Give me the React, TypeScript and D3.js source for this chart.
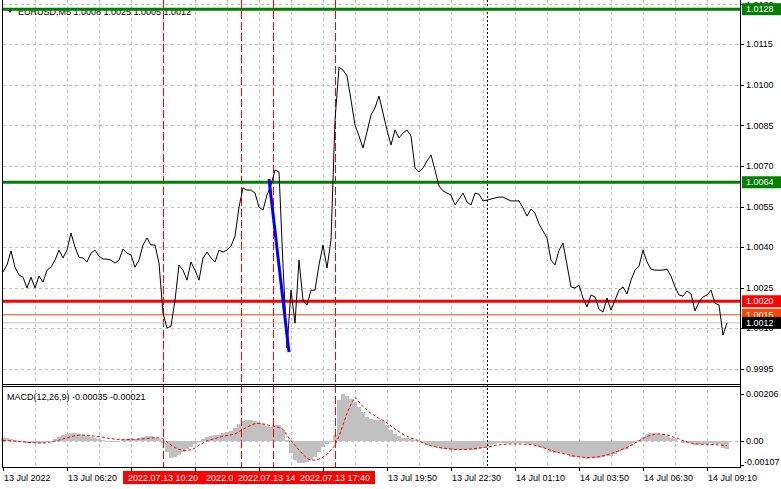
import React from "react";
import * as d3 from "d3";

// ---- data (sampled every 2 M5 bars) ----
const SAMPLE_STEP = 2;
const closes = [
  1.00308, 1.00334, 1.00386, 1.00326, 1.00297, 1.00289, 1.00249, 1.00289, 1.00249, 1.00293,
  1.00271, 1.00315, 1.00326, 1.00352, 1.00389, 1.0036, 1.00389, 1.00452, 1.004, 1.00363,
  1.0036, 1.00345, 1.00378, 1.00389, 1.00367, 1.00356, 1.00356, 1.00352, 1.00341, 1.00352,
  1.00393, 1.00378, 1.00371, 1.00326, 1.00352, 1.00408, 1.00434, 1.00408, 1.00408, 1.00341,
  1.00156, 1.00101, 1.00108, 1.00204, 1.00334, 1.00315, 1.00278, 1.00345, 1.00315, 1.00278,
  1.0036, 1.00382, 1.0036, 1.00345, 1.00389, 1.00382, 1.00389, 1.00404, 1.00441, 1.00548,
  1.00619, 1.00611, 1.00611, 1.006, 1.00548, 1.00537, 1.00593, 1.0063, 1.00685, 1.00678,
  1.00334, 1.00027, 1.00241, 1.00119, 1.00352, 1.00204, 1.00186, 1.00241, 1.00241, 1.00334,
  1.00408, 1.00323, 1.00426, 1.0087, 1.01066, 1.01055, 1.01033, 1.00944, 1.00852, 1.00811,
  1.00767, 1.00826, 1.00889, 1.00915, 1.00959, 1.00896, 1.00833, 1.00778, 1.00833, 1.00804,
  1.00822, 1.00833, 1.00811, 1.00693, 1.00678, 1.00693, 1.00719, 1.00741, 1.00685, 1.00626,
  1.00608, 1.006, 1.00593, 1.00556, 1.00578, 1.006, 1.00567, 1.00556, 1.006, 1.00596,
  1.00571, 1.00574, 1.00578, 1.00582, 1.00585, 1.00585, 1.00578, 1.00571, 1.00571, 1.00571,
  1.00545, 1.00515, 1.00541, 1.00526, 1.00486, 1.0046, 1.00434, 1.00352, 1.00334, 1.00389,
  1.00415, 1.00334, 1.00253, 1.00249, 1.0026, 1.00212, 1.00179, 1.00223, 1.00216, 1.00171,
  1.0016, 1.00212, 1.00167, 1.00204, 1.00241, 1.00253, 1.00227, 1.00278, 1.00315, 1.0033,
  1.00389, 1.00345, 1.00319, 1.00315, 1.00315, 1.00315, 1.00319, 1.00293, 1.00253, 1.00223,
  1.00219, 1.00238, 1.00227, 1.00164, 1.00197, 1.00216, 1.00223, 1.00241, 1.00193, 1.00186,
  1.00075, 1.0012,
];

const macdMain = [
  0.00012, 0.00012, 0.00007, 0.00003, -0.00001, -0.00006, -0.0001, -0.00012, -0.00012, -0.0001,
  -0.0001, -0.00006, -0.00001, 0.00007, 0.00016, 0.00025, 0.00029, 0.00034, 0.00034, 0.00029,
  0.00025, 0.0002, 0.00016, 0.00012, 0.00007, 0.00003, -0.00001, -0.00004, -0.00004, -0.00001,
  0.00003, 0.00007, 0.0001, 0.00007, 0.0001, 0.00016, 0.0002, 0.0002, 0.00016, 0.00007,
  -0.0001, -0.0005, -0.00076, -0.00071, -0.00063, -0.0005, -0.00036, -0.00028, -0.00014, -0.00006,
  0.00007, 0.00016, 0.0002, 0.00025, 0.00027, 0.00034, 0.00038, 0.00042, 0.00056, 0.00073,
  0.00086, 0.00091, 0.00091, 0.00086, 0.00082, 0.00073, 0.00064, 0.0006, 0.00069, 0.00069,
  0.00047, 0.00003, -0.00054, -0.00085, -0.00098, -0.00098, -0.00093, -0.00085, -0.00071, -0.0005,
  -0.00028, -0.00014, -0.00006, 0.00025, 0.00179, 0.00206, 0.00198, 0.00185, 0.0017, 0.0015,
  0.00125, 0.00105, 0.00095, 0.00092, 0.0009, 0.00088, 0.0007, 0.00045, 0.0003, 0.0002,
  0.00014, 0.0001, 0.00008, 0.00005, 0.0, -0.0001, -0.00018, -0.00022, -0.00028, -0.00032,
  -0.00035, -0.00038, -0.0004, -0.0004, -0.0004, -0.00042, -0.0004, -0.0004, -0.0004, -0.00035,
  -0.0003, -0.00027, -0.00018, -0.00013, -0.0001, -0.00008, -0.0001, -0.0001, -0.0001, -0.00008,
  -0.00012, -0.00016, -0.00016, -0.00018, -0.00022, -0.0003, -0.00038, -0.00048, -0.00055, -0.0005,
  -0.00052, -0.0006, -0.0007, -0.00072, -0.0007, -0.00072, -0.00078, -0.00076, -0.00074, -0.00075,
  -0.00072, -0.00068, -0.00066, -0.00058, -0.00048, -0.00042, -0.00034, -0.00022, -0.0001, 0.00005,
  0.00015, 0.0003, 0.00035, 0.00032, 0.0003, 0.00028, 0.00022, 0.00014, 0.00008, -0.00002,
  -0.0001, -0.00012, -0.00012, -0.00018, -0.00016, -0.00014, -0.00014, -0.0001, -0.00014, -0.00016,
  -0.0003, -0.00035,
];

const macdSignal = [
  0.00002, 0.0, 0.0, -0.00002, -0.00003, -0.00005, -0.00007, -0.00008, -0.00009, -0.0001,
  -0.0001, -0.00008, -0.00005, -0.00002, 0.00003, 0.00008, 0.00013, 0.00018, 0.00022, 0.00025,
  0.00025, 0.00024, 0.00022, 0.0002, 0.00018, 0.00015, 0.00012, 0.0001, 0.00007, 0.00006,
  0.00005, 0.00005, 0.00006, 0.00006, 0.00007, 0.00008, 0.0001, 0.00012, 0.00013, 0.00012,
  0.00008, -0.00005, -0.00018, -0.0003, -0.00038, -0.00042, -0.00042, -0.0004, -0.00032, -0.0002,
  -0.0001, 0.0, 0.00005, 0.0001, 0.00015, 0.0002, 0.00023, 0.00026, 0.0003, 0.0004,
  0.0005, 0.0006, 0.00068, 0.00075, 0.00076, 0.00074, 0.0007, 0.00066, 0.00062, 0.00058,
  0.0005, 0.00025, 0.0, -0.0002, -0.0004, -0.0006, -0.00078, -0.00085, -0.00085, -0.0008,
  -0.00072, -0.0006, -0.0004, -0.0002, 0.0002, 0.0007, 0.0012, 0.0016, 0.0019, 0.0017,
  0.0015, 0.00135, 0.0012, 0.0011, 0.00098, 0.0009, 0.00078, 0.00065, 0.00052, 0.0004,
  0.00028, 0.0002, 0.00012, 0.00006, 0.0, -0.0001, -0.00016, -0.00022, -0.00026, -0.0003,
  -0.00032, -0.00034, -0.00036, -0.00038, -0.00038, -0.00038, -0.00038, -0.00036, -0.00034, -0.00032,
  -0.0003, -0.00028, -0.00025, -0.0002, -0.00018, -0.00016, -0.00014, -0.00014, -0.00014, -0.00014,
  -0.00015, -0.00016, -0.00017, -0.0002, -0.00024, -0.0003, -0.00036, -0.00042, -0.00048, -0.00052,
  -0.00056, -0.0006, -0.00064, -0.00068, -0.0007, -0.00072, -0.00074, -0.00074, -0.00072, -0.0007,
  -0.00066, -0.00062, -0.00056, -0.0005, -0.00044, -0.00036, -0.0003, -0.0002, -0.0001, 0.0,
  0.0001, 0.00018, 0.00025, 0.00028, 0.0003, 0.00028, 0.00025, 0.0002, 0.00014, 0.00008,
  0.0, -0.00005, -0.0001, -0.00013, -0.00015, -0.00016, -0.00016, -0.00016, -0.00017, -0.00018,
  -0.0002, -0.00021,
];

const priceTicks = [1.013, 1.0115, 1.01, 1.0085, 1.007, 1.0055, 1.004, 1.0025, 1.001, 0.9995];
const priceTickLabels = ["1.0130", "1.0115", "1.0100", "1.0085", "1.0070", "1.0055", "1.0040", "1.0025", "1.0010", "0.9995"];
const macdTicks = [0.00206, 0, -0.00107];
const macdTickLabels = ["0.00206", "0.00", "-0.00107"];

const timeTickBars = [0, 32, 64, 96, 128, 160, 192, 224, 256, 288, 320, 352];
const timeTickLabels = [
  "13 Jul 2022", "13 Jul 06:20", "13 Jul 09:00", "13 Jul 11:40", "13 Jul 14:20", "13 Jul 17:00",
  "13 Jul 19:50", "13 Jul 22:30", "14 Jul 01:10", "14 Jul 03:50", "14 Jul 06:30", "14 Jul 09:10",
];
const gridBars = d3.range(16, 353, 16);

const levelPrices = [1.0128, 1.0064, 1.002, 1.0015, 1.0012];
const levelLabels = ["1.0128", "1.0064", "1.0020", "1.0015", "1.0012"];

const markerBars = [80, 119, 135, 166];
// text of each marker label as far as it shows before the next label covers it
const markerLabels = ["2022.07.13 10:20", "2022.0", "2022.07.13 14", "2022.07.13 17:40"];
const dottedBar = 242;

const trendBars = [133, 143];
const trendPrices = [1.00652, 1.00012];

const headerText = "EURUSD,M5  1.0008 1.0025 1.0005 1.0012";
const macdText = "MACD(12,26,9) -0.00035 -0.00021";

// ---- styles ----
const FONT = "'Liberation Sans', Arial, sans-serif";
const FS = 9;
const levelStyles = [
  { color: "#008000", width: 3, bg: "#008000", fg: "#ffffff" },
  { color: "#008000", width: 3, bg: "#008000", fg: "#ffffff" },
  { color: "#ff0000", width: 3, bg: "#ff0000", fg: "#ffffff" },
  { color: "#ff4500", width: 1, bg: "#ff4500", fg: "#ffffff" },
  { color: "#c0c0c0", width: 1, bg: "#000000", fg: "#ffffff" },
];

export default function App() {
  const W = 781, H = 489;
  const left = 3, right = 740;
  const mainTop = 0, mainBottom = 384;
  const macdTop = 386, macdBottom = 467;

  const x = d3.scaleLinear().domain([0, 368.5]).range([left, right]);
  const y = d3.scaleLinear().domain([0.99894, 1.01314]).range([mainBottom, mainTop]);
  const ym = d3.scaleLinear().domain([-0.00115, 0.0024]).range([macdBottom, macdTop]);

  const priceLine = d3
    .line<number>()
    .x((_, i) => x(i * SAMPLE_STEP))
    .y((d) => y(d));
  const signalLine = d3
    .line<number>()
    .x((_, i) => x(i * SAMPLE_STEP))
    .y((d) => ym(d));

  const grid = "#c0c0c0";
  const barW = x(SAMPLE_STEP) - x(0);
  const boxHalf = 40;
  const boxMin = x(markerBars[0]) - boxHalf;
  const boxMax = x(markerBars[markerBars.length - 1]) + boxHalf;

  return (
    <svg width={W} height={H} style={{ display: "block", position: "absolute", left: 0, top: 0, background: "#fff" }}
      fontFamily={FONT}>
      <rect x={0} y={0} width={W} height={H} fill="#fff" />
      {/* grid */}
      {gridBars.map((b) => (
        <line key={"gv" + b} x1={Math.round(x(b)) + 0.5} x2={Math.round(x(b)) + 0.5} y1={mainTop} y2={macdBottom}
          stroke={grid} strokeDasharray="3,3" />
      ))}
      {priceTicks.map((p) => (
        <line key={"gh" + p} x1={left} x2={right} y1={Math.round(y(p)) + 0.5} y2={Math.round(y(p)) + 0.5}
          stroke={grid} strokeDasharray="3,3" />
      ))}
      <line x1={left} x2={right} y1={Math.round(ym(0)) + 0.5} y2={Math.round(ym(0)) + 0.5} stroke={grid} strokeDasharray="3,3" />

      {/* MACD histogram */}
      {macdMain.map((v, i) => {
        const y0 = ym(0), y1 = ym(v);
        return (
          <rect key={"h" + i} x={x(i * SAMPLE_STEP) - barW / 2} width={barW}
            y={Math.min(y0, y1)} height={Math.abs(y1 - y0)} fill="#c0c0c0" shapeRendering="crispEdges" />
        );
      })}
      <path d={signalLine(macdSignal) || ""} fill="none" stroke="#ff0000" strokeWidth={1} strokeDasharray="3,2" />

      {/* vertical markers */}
      {markerBars.map((b) => (
        <line key={"mv" + b} x1={Math.round(x(b)) + 0.5} x2={Math.round(x(b)) + 0.5} y1={mainTop} y2={macdBottom}
          stroke="#ff0000" strokeDasharray="8,3" />
      ))}
      <line x1={Math.round(x(dottedBar)) + 0.5} x2={Math.round(x(dottedBar)) + 0.5} y1={mainTop} y2={macdBottom}
        stroke="#000" strokeDasharray="2,2" />

      {/* header */}
      <path d="M7,9 L13,9 L10,13 Z" fill="#000" />
      <text x={18} y={15} fontSize={FS} fill="#000">{headerText}</text>

      {/* horizontal levels */}
      {levelPrices.map((p, i) => (
        <line key={"lv" + i} x1={left} x2={right} y1={y(p)} y2={y(p)} stroke={levelStyles[i].color}
          strokeWidth={levelStyles[i].width} />
      ))}

      {/* price line */}
      <path d={priceLine(closes) || ""} fill="none" stroke="#000" strokeWidth={1} />

      {/* trendline */}
      <line x1={x(trendBars[0])} y1={y(trendPrices[0])} x2={x(trendBars[1])} y2={y(trendPrices[1])}
        stroke="#0000ff" strokeWidth={3} />

      {/* MACD label */}
      <text x={7} y={400} fontSize={FS} fill="#000">{macdText}</text>

      {/* frames */}
      <line x1={left - 0.5} x2={left - 0.5} y1={0} y2={macdBottom} stroke="#000" />
      <line x1={right + 0.5} x2={right + 0.5} y1={0} y2={macdBottom + 0.5} stroke="#000" />
      <line x1={left - 1} x2={right + 1} y1={mainBottom + 0.5} y2={mainBottom + 0.5} stroke="#000" />
      <line x1={left - 1} x2={right + 1} y1={macdTop + 0.5} y2={macdTop + 0.5} stroke="#000" />
      <line x1={left - 1} x2={right + 1} y1={macdBottom + 0.5} y2={macdBottom + 0.5} stroke="#000" />

      {/* right price axis */}
      {priceTicks.map((p, i) => (
        <g key={"pt" + i}>
          <line x1={right} x2={right + 4} y1={Math.round(y(p)) + 0.5} y2={Math.round(y(p)) + 0.5} stroke="#000" />
          <text x={right + 6} y={Math.max(y(p), 5)} dy="0.35em" fontSize={FS} fill="#000">{priceTickLabels[i]}</text>
        </g>
      ))}
      {macdTicks.map((v, i) => (
        <g key={"mt" + i}>
          <line x1={right} x2={right + 4} y1={Math.round(ym(v)) + 0.5} y2={Math.round(ym(v)) + 0.5} stroke="#000" />
          <text x={v < 0 ? right + 4 : right + 6} y={Math.min(ym(v), macdBottom - 5)} dy="0.35em" fontSize={FS} fill="#000">{macdTickLabels[i]}</text>
        </g>
      ))}
      {levelPrices.map((p, i) => (
        <g key={"lb" + i}>
          <rect x={right + 2} y={y(p) - 6} width={W - right - 2} height={12} fill={levelStyles[i].bg} />
          <text x={right + 6} y={y(p)} dy="0.35em" fontSize={FS} fill={levelStyles[i].fg}>{levelLabels[i]}</text>
        </g>
      ))}

      {/* bottom time axis */}
      {timeTickBars.map((b, i) => {
        const tx = x(b);
        const hidden = tx > boxMin - 5 && tx < boxMax;
        return (
          <g key={"tt" + b}>
            <line x1={Math.round(tx) + 0.5} x2={Math.round(tx) + 0.5} y1={macdBottom} y2={macdBottom + 4} stroke="#000" />
            {!hidden && <text x={tx + 1} y={481} fontSize={FS} fill="#000">{timeTickLabels[i]}</text>}
          </g>
        );
      })}
      {markerBars.map((b, i) => (
        <g key={"ml" + b}>
          <rect x={x(b) - boxHalf} y={471} width={boxHalf * 2} height={13} fill="#ff0000" />
          <text x={x(b) - 35} y={481} fontSize={FS} fill="#fff">{markerLabels[i]}</text>
        </g>
      ))}
    </svg>
  );
}
